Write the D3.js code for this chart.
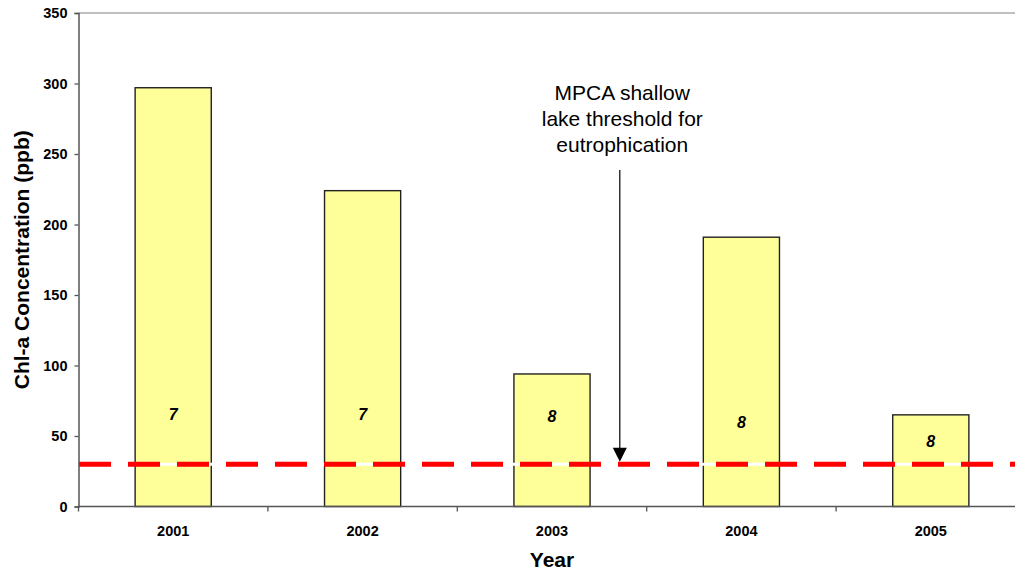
<!DOCTYPE html>
<html>
<head>
<meta charset="utf-8">
<script src="https://cdn.jsdelivr.net/npm/d3@7"></script>
<style>
  html, body { margin: 0; padding: 0; background: #fff; }
  svg { display: block; font-family: "Liberation Sans", Arial, sans-serif; }
</style>
</head>
<body>
<svg id="chart" width="1015" height="574"></svg>
<script>
// Chl-a summer mean concentrations by year
const years = ["2001", "2002", "2003", "2004", "2005"];
const chlA = [297, 224, 94, 191, 65];
// number of samples per year, printed inside the bars
const sampleCounts = [7, 7, 8, 8, 8];
// vertical anchor (in ppb) for each sample-count label
const countLabelAt = [65.5, 65.5, 64, 60, 46.5];
const yTicks = [0, 50, 100, 150, 200, 250, 300, 350];
// MPCA shallow-lake eutrophication threshold (ppb)
const threshold = 30;
const noteLines = ["MPCA shallow", "lake threshold for", "eutrophication"];

const svg = d3.select("#chart");
const margin = { left: 78.5, top: 13, bottom: 506.5 };
const plotRight = 78.5 + 5 * 189.4;

const x = d3.scaleBand().domain(years).range([margin.left, plotRight]).padding(0);
const y = d3.scaleLinear().domain([0, 350]).range([margin.bottom, margin.top]);

const barW = x.bandwidth() * 0.402;

// plot frame (top edge)
svg.append("line")
  .attr("x1", margin.left).attr("x2", plotRight)
  .attr("y1", y(350)).attr("y2", y(350))
  .attr("stroke", "#808080").attr("stroke-width", 1);

// bars
svg.append("g").selectAll("rect")
  .data(years)
  .join("rect")
  .attr("x", d => x(d) + (x.bandwidth() - barW) / 2)
  .attr("y", (d, i) => y(chlA[i]))
  .attr("width", barW)
  .attr("height", (d, i) => y(0) - y(chlA[i]))
  .attr("fill", "#FFFF99")
  .attr("stroke", "#222")
  .attr("stroke-width", 1.4);

// sample counts
svg.append("g").selectAll("text")
  .data(years)
  .join("text")
  .attr("x", d => x(d) + x.bandwidth() / 2)
  .attr("y", (d, i) => y(countLabelAt[i]))
  .attr("dy", "0.36em")
  .attr("text-anchor", "middle")
  .attr("font-size", 16)
  .attr("font-weight", "bold")
  .attr("font-style", "italic")
  .attr("fill", "#000")
  .text((d, i) => sampleCounts[i]);

// threshold line: white base with red dashes on top
svg.append("line")
  .attr("x1", margin.left).attr("x2", plotRight)
  .attr("y1", y(threshold)).attr("y2", y(threshold))
  .attr("stroke", "#fff").attr("stroke-width", 3);
svg.append("line")
  .attr("x1", margin.left + 0.5).attr("x2", plotRight)
  .attr("y1", y(threshold)).attr("y2", y(threshold))
  .attr("stroke", "#FF0000").attr("stroke-width", 5)
  .attr("stroke-dasharray", "32,17");

// y axis
const yAxis = svg.append("g")
  .attr("transform", `translate(${margin.left},0)`)
  .call(d3.axisLeft(y).tickValues(yTicks).tickSize(4).tickPadding(7));
yAxis.select(".domain").attr("stroke", "#555").attr("stroke-width", 1.5);
yAxis.selectAll(".tick line").attr("stroke", "#555").attr("stroke-width", 1.3);
yAxis.selectAll(".tick text")
  .attr("font-family", "Liberation Sans, Arial, sans-serif")
  .attr("font-size", 14.5).attr("font-weight", "bold").attr("fill", "#000");

// x axis: ticks on category boundaries
const xAxisG = svg.append("g");
xAxisG.append("line")
  .attr("x1", margin.left).attr("x2", plotRight)
  .attr("y1", y(0)).attr("y2", y(0))
  .attr("stroke", "#555").attr("stroke-width", 1.5);
const boundaries = years.map(d => x(d)).concat([plotRight]);
xAxisG.selectAll("line.tick")
  .data(boundaries)
  .join("line")
  .attr("class", "tick")
  .attr("x1", d => d).attr("x2", d => d)
  .attr("y1", y(0)).attr("y2", y(0) + 5)
  .attr("stroke", "#555").attr("stroke-width", 1.3);
xAxisG.selectAll("text")
  .data(years)
  .join("text")
  .attr("x", d => x(d) + x.bandwidth() / 2)
  .attr("y", y(0) + 29)
  .attr("text-anchor", "middle")
  .attr("font-size", 14.5).attr("font-weight", "bold").attr("fill", "#000")
  .text(d => d);

// axis titles
svg.append("text")
  .attr("x", (margin.left + plotRight) / 2)
  .attr("y", 567)
  .attr("text-anchor", "middle")
  .attr("font-size", 21).attr("font-weight", "bold")
  .text("Year");
svg.append("text")
  .attr("transform", `translate(21,${(margin.top + margin.bottom) / 2}) rotate(-90)`)
  .attr("text-anchor", "middle")
  .attr("dy", "0.36em")
  .attr("font-size", 21).attr("font-weight", "bold")
  .text("Chl-a Concentration (ppb)");

// annotation with arrow pointing at the threshold line
const noteX = x("2003") + x.bandwidth() * 0.871;
const arrowX = x("2003") + x.bandwidth() * 0.858;
svg.append("g").selectAll("text")
  .data(noteLines)
  .join("text")
  .attr("x", noteX)
  .attr("y", (d, i) => 100 + i * 26)
  .attr("text-anchor", "middle")
  .attr("font-size", 21)
  .attr("fill", "#000")
  .text(d => d);

const tipY = y(threshold) - 2.5;
svg.append("line")
  .attr("x1", arrowX).attr("x2", arrowX)
  .attr("y1", 170).attr("y2", tipY - 12)
  .attr("stroke", "#000").attr("stroke-width", 1.2);
svg.append("path")
  .attr("d", `M${arrowX - 7},${tipY - 14}L${arrowX + 7},${tipY - 14}L${arrowX},${tipY}Z`)
  .attr("fill", "#000");
</script>
</body>
</html>
